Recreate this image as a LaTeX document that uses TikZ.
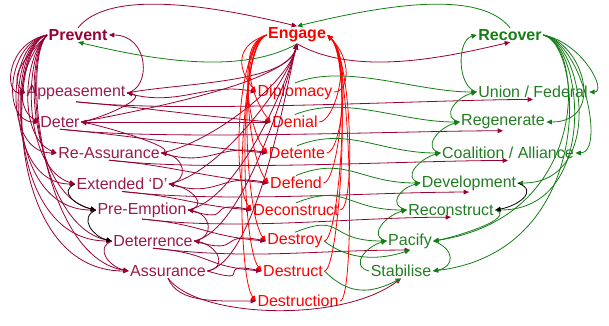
\documentclass[tikz,border=0pt]{standalone}
\usepackage{fontspec}
\setmainfont{Liberation Sans}
\usetikzlibrary{arrows.meta}
\definecolor{pvcol}{RGB}{153,0,51}
\definecolor{pvtext}{RGB}{153,26,77}
\definecolor{engcol}{RGB}{255,0,0}
\definecolor{reccol}{RGB}{20,125,20}
\definecolor{rectext}{RGB}{34,125,34}
\tikzset{
  lbl/.style={inner sep=1pt, font=\fontsize{12}{14}\selectfont},
  head/.style={inner sep=1pt, font=\fontsize{12}{14}\selectfont\bfseries},
  smalltip/.style={-{Triangle[length=4pt,width=3.5pt]}},
  bothtip/.style={{Triangle[length=4pt,width=3.5pt]}-{Triangle[length=4pt,width=3.5pt]}},
  pvline/.style={draw=pvcol, line width=0.6pt, smalltip},
  engline/.style={draw=engcol, line width=0.6pt, smalltip},
  recline/.style={draw=reccol, line width=0.6pt, smalltip},
  blkline/.style={draw=black, line width=0.6pt, smalltip},
}
\begin{document}
\begin{tikzpicture}[x=0.75pt,y=0.75pt,yscale=-1,xscale=1]
\useasboundingbox (0,0) rectangle (609,325);

% Text Node
\node[head, text=pvcol] (prevent) at (78,35) {Prevent};
\node[head, text=engcol] (engage) at (297,35) {Engage};
\node[head, text=reccol] (recover) at (510,35) {Recover};
% Text Node
\node[lbl, text=pvtext] (appease) at (76,93) {Appeasement};
\node[lbl, text=pvtext] (deter) at (60,122) {Deter};
\node[lbl, text=pvtext] (reassure) at (109,153) {Re-Assurance};
\node[lbl, text=pvtext] (extd) at (122,184) {Extended ‘D’};
\node[lbl, text=pvtext] (preempt) at (142,210) {Pre-Emption};
\node[lbl, text=pvtext] (deterr) at (153,241) {Deterrence};
\node[lbl, text=pvtext] (assure) at (168,271) {Assurance};
% Text Node
\node[lbl, text=engcol] (diplo) at (295,92) {Diplomacy};
\node[lbl, text=engcol] (denial) at (295,122) {Denial};
\node[lbl, text=engcol] (detente) at (297,153) {Detente};
\node[lbl, text=engcol] (defend) at (296,183) {Defend};
\node[lbl, text=engcol] (deconstr) at (296,210) {Deconstruct};
\node[lbl, text=engcol] (destroy) at (295,241) {Destroy};
\node[lbl, text=engcol] (destruct) at (293,271) {Destruct};
\node[lbl, text=engcol] (destruction) at (298,301) {Destruction};
% Text Node
\node[lbl, text=rectext] (union) at (533,92) {Union / Federal};
\node[lbl, text=rectext] (regen) at (503,122) {Regenerate};
\node[lbl, text=rectext] (coal) at (508,153) {Coalition / Alliance};
\node[lbl, text=rectext] (devel) at (469,183) {Development};
\node[lbl, text=rectext] (reconstr) at (451,210) {Reconstruct};
\node[lbl, text=rectext] (pacify) at (410,241) {Pacify};
\node[lbl, text=rectext] (stab) at (401,271) {Stabilise};

%Curve Lines (top loops)
\draw[pvline] (prevent.north) .. controls +(30,-38) and +(-90,-22) .. (engage.north);
\draw[recline] (recover.north) .. controls +(-30,-38) and +(90,-22) .. (engage.north);
\draw[recline] (engage.south) .. controls +(-60,34) and +(60,14) .. (prevent.south);
\draw[pvline] (engage.south) .. controls +(60,34) and +(-60,14) .. (recover.south);

%Curve Lines (Prevent fan)
\foreach \c/\d in {appease/22, deter/38, reassure/54, extd/72, preempt/92, deterr/108, assure/126}{
  \draw[pvline] (prevent.west) .. controls +(-40,8) and +(-\d,0) .. (\c.west);
  \draw[pvline] (prevent.west) .. controls +(-25,25) and +(-0.7*\d,-15) .. (\c.west);
}
\draw[blkline] (extd.west) .. controls +(-18,8) and +(-18,-4) .. (preempt.west);
\draw[blkline] (preempt.west) .. controls +(-18,8) and +(-18,-4) .. (deterr.west);
\draw[pvline] (deterr.west) .. controls +(-18,8) and +(-18,-4) .. (assure.west);

%Curve Lines (Prevent chain)
\draw[pvline] (appease.east) .. controls +(25,-5) and +(40,0) .. (prevent.east);
\foreach \a/\b in {deter/appease, reassure/deter, extd/reassure, preempt/extd, deterr/preempt, assure/deterr}
  \draw[pvline] (\a.east) .. controls +(22,-4) and +(22,4) .. (\b.east);
\foreach \c in {appease, deter, reassure, extd, preempt, deterr, assure}
  \draw[pvline] (\c.east) .. controls +(50,-10) and +(-10,40) .. (engage.south);

%Curve Lines (Prevent to Engage)
\draw[pvline, bothtip] (deter.east) -- (denial.west);
\foreach \a/\b in {appease/diplo, reassure/detente, extd/defend, preempt/deconstr, deterr/destroy, assure/destruct}
  \draw[pvline] (\a.east) .. controls +(50,15) and +(-50,-10) .. (\b.west);
\foreach \a/\b in {appease/denial, deter/detente, reassure/defend, extd/deconstr, preempt/destroy, deterr/destruct}
  \draw[pvline] (\a.south) .. controls +(60,5) and +(-60,-5) .. (\b.west);
\draw[pvline] (assure.south) .. controls +(10,25) and +(-40,0) .. (destruction.west);

%Curve Lines (Prevent to Recover)
\foreach \a/\b in {appease/union, deter/regen, reassure/coal, extd/devel, preempt/reconstr, deterr/pacify}
  \draw[pvline] (\a.south) .. controls +(100,12) and +(-100,0) .. (\b.south);
\draw[pvline] (assure.south) .. controls +(30,40) and +(-60,45) .. (stab.south);

%Curve Lines (Engage fan)
\foreach \c in {diplo, denial, detente, defend, deconstr, destroy, destruct, destruction}{
  \draw[engline] (engage.west) .. controls +(-30,10) and +(-20,-25) .. (\c.west);
  \draw[engline] (\c.east) .. controls +(15,0) and +(25,25) .. (engage.east);
}

%Curve Lines (Engage to Recover)
\foreach \a/\b in {diplo/union, denial/regen, detente/coal, defend/devel, deconstr/reconstr, destroy/pacify}
  \draw[recline] (\a.north) .. controls +(50,-20) and +(-60,0) .. (\b.west);
\draw[recline] (destroy.east) .. controls +(25,20) and +(-30,10) .. (pacify.south);
\draw[recline] (destruct.east) .. controls +(25,25) and +(-30,15) .. (stab.south);

%Curve Lines (Recover fan)
\foreach \c/\dx/\dy in {union/18/0, regen/60/0, coal/30/0, devel/88/0, reconstr/105/0, pacify/160/-25, stab/165/-20}{
  \draw[recline] (recover.east) .. controls +(40,8) and +(\dx,\dy) .. (\c.east);
}
\foreach \a/\b in {union/recover, regen/union, coal/regen, devel/coal, reconstr/devel, pacify/reconstr, stab/pacify}
  \draw[recline] (\a.west) .. controls +(-20,-5) and +(-20,5) .. (\b.west);
\draw[blkline] (devel.east) .. controls +(22,8) and +(22,-4) .. (reconstr.east);
\draw[recline] (reconstr.east) .. controls +(22,8) and +(22,-4) .. (pacify.east);
\draw[recline] (pacify.east) .. controls +(22,8) and +(22,-4) .. (stab.east);

\end{tikzpicture}
\end{document}
